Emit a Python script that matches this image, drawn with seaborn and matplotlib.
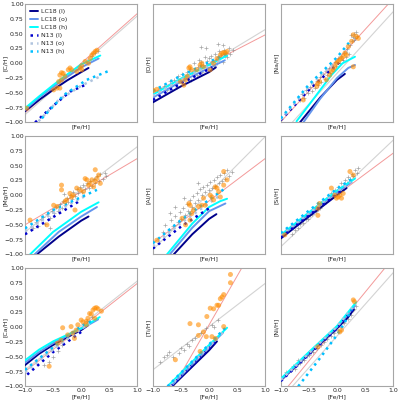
import numpy as np
import pandas as pd
import matplotlib
matplotlib.use('Agg')
import matplotlib.pyplot as plt
import seaborn as sns

sns.set_style('white')

model_names = ['LC18 (l)', 'LC18 (o)', 'LC18 (h)', 'N13 (l)', 'N13 (o)', 'N13 (h)']
feh_ends = [-1.0, 1.0]

# ---------------- [C/H] ----------------
C_stars = [(-0.40, -0.30), (-0.30, -0.20), (0.10, 0.02), (0.20, 0.12), (0.25, 0.18), (0.30, 0.20)]
C_sample = [(-0.97, -0.76), (-0.49, -0.45), (-0.43, -0.42), (-0.38, -0.42), (-0.40, -0.31), (-0.35, -0.28),
            (-0.38, -0.20), (-0.35, -0.16), (-0.32, -0.17), (-0.29, -0.22), (-0.23, -0.11), (-0.20, -0.08),
            (-0.17, -0.11), (-0.08, -0.14), (0.01, -0.11), (0.01, -0.04), (0.07, 0.03), (0.13, 0.00),
            (0.16, 0.08), (0.22, 0.17), (0.25, 0.20), (0.28, 0.22), (0.19, 0.14), (-0.02, -0.08)]
C_fit_gray = [-0.87, 0.80]
C_fit_red = [-0.84, 0.84]
C_lc18 = [[(-1, -0.81), (-0.75, -0.62), (-0.5, -0.45), (-0.25, -0.29), (0, -0.15), (0.13, -0.08)],
          [(-1, -0.79), (-0.75, -0.58), (-0.5, -0.40), (-0.25, -0.23), (0, -0.07), (0.31, 0.08)],
          [(-1, -0.76), (-0.75, -0.56), (-0.5, -0.37), (-0.25, -0.19), (0, -0.02), (0.34, 0.13)]]
C_n13 = [[(-0.82, -1.0), (-0.5, -0.72), (-0.2, -0.48), (0.11, -0.35)],
         [(-0.76, -0.98), (-0.4, -0.62), (0, -0.38), (0.34, -0.22)],
         [(-0.70, -0.93), (-0.3, -0.53), (0.1, -0.28), (0.49, -0.13)]]

# ---------------- [O/H] ----------------
O_stars = [(-0.88, -0.42), (-0.80, -0.38), (-0.75, -0.45), (-0.70, -0.30), (-0.66, -0.36), (-0.62, -0.28),
           (-0.58, -0.40), (-0.55, -0.22), (-0.52, -0.30), (-0.48, -0.18), (-0.45, -0.26), (-0.42, -0.34),
           (-0.40, -0.15), (-0.37, -0.22), (-0.34, -0.10), (-0.32, -0.28), (-0.30, -0.17), (-0.27, 0.00),
           (-0.25, -0.12), (-0.22, -0.20), (-0.20, -0.06), (-0.18, 0.05), (-0.16, -0.10), (-0.14, 0.02),
           (-0.12, -0.15), (-0.10, -0.03), (-0.08, 0.10), (-0.06, -0.06), (-0.04, 0.04), (-0.02, -0.10),
           (0.00, 0.08), (0.02, -0.02), (0.04, 0.12), (0.06, 0.03), (0.08, -0.05), (0.10, 0.15),
           (0.12, 0.06), (0.14, 0.00), (0.16, 0.10), (0.18, 0.20), (0.20, 0.08), (0.22, 0.14),
           (0.24, 0.02), (0.26, 0.22), (0.28, 0.12), (0.30, 0.18), (0.32, 0.10), (0.35, 0.25),
           (0.38, 0.16), (0.42, 0.22), (-0.15, 0.28), (-0.05, 0.25), (0.15, 0.32), (0.25, 0.30)]
O_sample = [(-0.99, -0.46), (-0.93, -0.44), (-0.51, -0.31), (-0.42, -0.28), (-0.39, -0.22), (-0.36, -0.08),
            (-0.34, -0.06), (-0.31, -0.11), (-0.22, -0.11), (-0.16, -0.03), (-0.13, 0.00), (-0.10, -0.06),
            (0.02, -0.11), (0.08, 0.00), (0.14, 0.08), (0.20, 0.14), (0.23, 0.17), (0.26, 0.18),
            (0.29, 0.17), (0.32, 0.20), (-0.45, -0.37)]
O_fit_gray = [-0.58, 0.57]
O_fit_red = [-0.50, 0.48]
O_lc18 = [[(-1, -0.66), (-0.5, -0.39), (-0.25, -0.27), (0, -0.15), (0.12, -0.07)],
          [(-1, -0.58), (-0.5, -0.31), (0, -0.08), (0.28, 0.05)],
          [(-1, -0.53), (-0.5, -0.26), (0, -0.03), (0.32, 0.13)]]
O_n13 = [[(-1, -0.62), (-0.5, -0.34), (0, -0.10), (0.06, -0.07)],
         [(-1, -0.55), (-0.5, -0.28), (0, -0.04), (0.25, 0.07)],
         [(-1, -0.47), (-0.5, -0.21), (0, 0.02), (0.32, 0.17)]]

# ---------------- [Na/H] ----------------
Na_stars = [(-0.66, -0.62), (-0.62, -0.52), (-0.58, -0.58), (-0.55, -0.46), (-0.52, -0.50), (-0.48, -0.40),
            (-0.45, -0.47), (-0.42, -0.35), (-0.40, -0.42), (-0.36, -0.30), (-0.33, -0.36), (-0.30, -0.24),
            (-0.28, -0.32), (-0.25, -0.18), (-0.22, -0.26), (-0.20, -0.13), (-0.17, -0.20), (-0.14, -0.08),
            (-0.12, -0.16), (-0.09, -0.03), (-0.06, -0.10), (-0.04, 0.02), (-0.01, -0.05), (0.02, 0.08),
            (0.05, 0.00), (0.08, 0.13), (0.10, 0.05), (0.13, 0.18), (0.16, 0.10), (0.18, 0.24),
            (0.21, 0.15), (0.24, 0.30), (0.26, 0.38), (0.28, 0.45), (0.30, 0.50), (0.32, 0.42),
            (0.34, 0.52), (0.36, 0.46), (0.25, 0.48), (0.30, 0.40)]
Na_sample = [(-0.60, -0.62), (-0.36, -0.39), (-0.34, -0.34), (-0.31, -0.31), (-0.19, -0.28), (-0.13, -0.20),
             (-0.10, -0.14), (-0.07, -0.11), (-0.04, -0.06), (-0.01, 0.00), (0.02, 0.03), (0.05, 0.06),
             (0.08, 0.08), (0.11, 0.11), (0.14, 0.17), (0.17, 0.14), (0.20, 0.28), (0.26, 0.37),
             (0.29, 0.48), (0.35, 0.45), (0.38, 0.42), (0.29, -0.06)]
Na_fit_gray = [-1.21, 0.87]
Na_fit_red = [-0.99, 1.09]
Na_lc18 = [[(-0.66, -1.0), (-0.3, -0.58), (0, -0.28), (0.14, -0.18)],
           [(-0.60, -1.0), (-0.3, -0.60), (0, -0.25), (0.2, -0.08), (0.32, -0.03)],
           [(-0.72, -0.98), (-0.4, -0.58), (-0.1, -0.20), (0.1, 0.0), (0.32, 0.11)]]
Na_n13 = [[(-1, -0.96), (-0.5, -0.45), (0, -0.02), (0.1, 0.06)],
          [(-1, -0.95), (-0.5, -0.40), (0, 0.05), (0.2, 0.20)],
          [(-1, -0.93), (-0.5, -0.36), (0, 0.10), (0.26, 0.40)]]

# ---------------- [Mg/H] ----------------
Mg_stars = [(-0.85, -0.55), (-0.80, -0.45), (-0.76, -0.52), (-0.72, -0.40), (-0.68, -0.36), (-0.65, -0.48),
            (-0.60, -0.32), (-0.56, -0.38), (-0.52, -0.26), (-0.48, -0.30), (-0.45, -0.20), (-0.42, -0.27),
            (-0.38, -0.15), (-0.35, -0.22), (-0.32, -0.10), (-0.29, -0.17), (-0.26, -0.05), (-0.23, -0.12),
            (-0.20, 0.00), (-0.17, -0.06), (-0.14, 0.05), (-0.11, -0.02), (-0.08, 0.10), (-0.05, 0.03),
            (-0.02, 0.14), (0.01, 0.06), (0.04, 0.17), (0.07, 0.10), (0.10, 0.20), (0.13, 0.12),
            (0.16, 0.24), (0.19, 0.16), (0.22, 0.28), (0.25, 0.20), (0.28, 0.32), (0.31, 0.24),
            (0.34, 0.36), (0.38, 0.28), (0.42, 0.38), (0.45, 0.33), (-0.55, -0.55), (-0.30, 0.02)]
Mg_sample = [(-0.91, -0.42), (-0.49, -0.17), (-0.43, -0.19), (-0.35, 0.17), (-0.35, 0.09), (-0.29, -0.11),
             (-0.26, -0.08), (-0.20, 0.03), (-0.17, -0.03), (-0.14, 0.00), (-0.08, 0.12), (-0.02, 0.09),
             (0.04, 0.06), (0.07, 0.28), (0.13, 0.17), (0.16, 0.20), (0.19, 0.26), (0.22, 0.14),
             (0.25, 0.23), (0.28, 0.28), (0.31, 0.34), (0.34, 0.20), (0.25, 0.43), (-0.11, -0.25),
             (-0.61, -0.50), (0.10, 0.26)]
Mg_fit_gray = [-0.62, 0.82]
Mg_fit_red = [-0.50, 0.62]
Mg_lc18 = [[(-0.79, -1.0), (-0.4, -0.70), (0, -0.43), (0.13, -0.36)],
           [(-0.83, -1.0), (-0.4, -0.62), (0, -0.36), (0.28, -0.20)],
           [(-0.91, -1.0), (-0.5, -0.62), (0, -0.28), (0.31, -0.12)]]
Mg_n13 = [[(-1, -0.66), (-0.5, -0.37), (-0.05, -0.11)],
          [(-1, -0.61), (-0.5, -0.30), (0.1, 0.0)],
          [(-1, -0.56), (-0.5, -0.25), (0.28, 0.09)]]

# ---------------- [Al/H] ----------------
Al_stars = [(-0.82, -0.62), (-0.78, -0.50), (-0.72, -0.58), (-0.68, -0.42), (-0.64, -0.52), (-0.60, -0.35),
            (-0.56, -0.45), (-0.52, -0.28), (-0.50, -0.40), (-0.46, -0.22), (-0.43, -0.33), (-0.40, -0.15),
            (-0.37, -0.27), (-0.34, -0.08), (-0.31, -0.20), (-0.28, -0.02), (-0.25, -0.14), (-0.22, 0.04),
            (-0.19, -0.08), (-0.16, 0.10), (-0.13, 0.00), (-0.10, 0.14), (-0.07, 0.05), (-0.04, 0.18),
            (-0.01, 0.08), (0.02, 0.22), (0.05, 0.12), (0.08, 0.26), (0.11, 0.16), (0.14, 0.30),
            (0.17, 0.20), (0.20, 0.34), (0.23, 0.24), (0.26, 0.38), (0.29, 0.28), (0.32, 0.42),
            (0.35, 0.32), (0.40, 0.40), (-0.60, -0.20), (-0.45, -0.05), (-0.20, 0.20), (-0.70, -0.30)]
Al_sample = [(-0.93, -0.76), (-0.48, -0.39), (-0.36, -0.14), (-0.34, -0.17), (-0.31, -0.31), (-0.28, -0.25),
             (-0.19, -0.19), (-0.13, -0.17), (-0.10, -0.05), (-0.07, -0.17), (0.02, 0.00), (0.05, -0.03),
             (0.08, -0.08), (0.11, 0.14), (0.14, 0.12), (0.17, 0.06), (0.20, -0.03), (0.26, 0.40),
             (0.26, 0.17), (0.32, 0.26), (-0.42, -0.50), (-0.34, -0.42)]
Al_fit_gray = [-0.92, 0.99]
Al_fit_red = [-0.81, 0.62]
Al_lc18 = [[(-0.63, -1.0), (-0.3, -0.66), (0, -0.40), (0.13, -0.32)],
           [(-0.70, -1.0), (-0.3, -0.55), (0, -0.27), (0.29, -0.14)],
           [(-0.75, -1.0), (-0.3, -0.48), (0, -0.20), (0.2, -0.10), (0.32, -0.06)]]
Al_n13 = [[(-1, -0.90), (-0.5, -0.53), (0.05, -0.19)],
          [(-1, -0.86), (-0.5, -0.47), (0.2, 0.0)],
          [(-1, -0.81), (-0.5, -0.42), (0.29, 0.12)]]

# ---------------- [Si/H] ----------------
Si_stars = [(-0.80, -0.65), (-0.75, -0.58), (-0.70, -0.56), (-0.65, -0.49), (-0.60, -0.47), (-0.56, -0.40),
            (-0.52, -0.40), (-0.48, -0.33), (-0.44, -0.32), (-0.40, -0.25), (-0.37, -0.27), (-0.34, -0.19),
            (-0.31, -0.22), (-0.28, -0.14), (-0.25, -0.15), (-0.22, -0.08), (-0.19, -0.11), (-0.16, -0.03),
            (-0.13, -0.05), (-0.10, 0.03), (-0.07, 0.01), (-0.04, 0.09), (-0.01, 0.06), (0.02, 0.14),
            (0.05, 0.11), (0.08, 0.20), (0.11, 0.16), (0.14, 0.25), (0.17, 0.21), (0.20, 0.31),
            (0.23, 0.27), (0.26, 0.36), (0.29, 0.33), (0.32, 0.42), (0.35, 0.38), (0.38, 0.46)]
Si_sample = [(-0.93, -0.67), (-0.34, -0.34), (-0.34, -0.22), (-0.10, 0.12), (-0.04, 0.00), (-0.01, -0.05),
             (0.02, -0.03), (0.05, 0.00), (0.08, -0.05), (0.11, 0.03), (0.23, 0.40), (0.29, 0.34),
             (-0.31, -0.14)]
Si_fit_gray = [-0.87, 0.93]
Si_fit_red = [-0.70, 0.71]
Si_lc18 = [[(-1, -0.73), (-0.5, -0.36), (0, 0.00), (0.17, 0.12)],
           [(-1, -0.69), (-0.5, -0.32), (0, 0.05), (0.26, 0.22)],
           [(-1, -0.67), (-0.5, -0.29), (0, 0.08), (0.32, 0.28)]]
Si_n13 = [[(-1, -0.71), (-0.5, -0.34), (0, 0.02), (0.12, 0.10)],
          [(-1, -0.67), (-0.5, -0.30), (0, 0.07), (0.25, 0.23)],
          [(-1, -0.64), (-0.5, -0.26), (0, 0.11), (0.32, 0.31)]]

# ---------------- [Ca/H] ----------------
Ca_stars = [(-0.66, -0.64), (-0.58, -0.58), (-0.50, -0.50), (-0.42, -0.40), (-0.35, -0.30), (0.10, 0.10),
            (0.20, 0.18)]
Ca_sample = [(-0.57, -0.66), (-0.33, -0.01), (-0.18, 0.01), (-0.15, -0.10), (-0.12, -0.19), (-0.09, -0.05),
             (-0.06, 0.04), (0.00, 0.12), (0.03, 0.09), (0.09, 0.10), (0.12, 0.15), (0.18, 0.22),
             (0.21, 0.29), (0.24, 0.32), (0.27, 0.33), (0.30, 0.31), (0.36, 0.27), (-0.42, -0.27),
             (-0.36, -0.22), (-0.24, -0.13), (0.24, 0.15), (0.15, 0.23), (0.09, 0.04)]
Ca_fit_gray = [-0.72, 0.78]
Ca_fit_red = [-0.75, 0.74]
Ca_lc18 = [[(-1, -0.64), (-0.75, -0.45), (-0.5, -0.30), (-0.25, -0.17), (0, -0.05), (0.12, 0.03)],
           [(-1, -0.60), (-0.75, -0.42), (-0.5, -0.27), (-0.25, -0.15), (0, -0.03), (0.3, 0.13)],
           [(-1, -0.56), (-0.75, -0.38), (-0.5, -0.24), (-0.25, -0.13), (0, -0.02), (0.33, 0.17)]]
Ca_n13 = [[(-0.96, -0.80), (-0.5, -0.42), (0, -0.08)],
          [(-1, -0.76), (-0.5, -0.38), (0, -0.03), (0.15, 0.06)],
          [(-1, -0.72), (-0.5, -0.34), (0, 0.02), (0.24, 0.13)]]

# ---------------- [Ti/H] ----------------
Ti_stars = [(-0.87, -0.58), (-0.80, -0.50), (-0.75, -0.47), (-0.72, -0.42), (-0.65, -0.50), (-0.54, -0.44),
            (-0.50, -0.36), (-0.45, -0.38), (-0.40, -0.28), (-0.36, -0.31), (-0.30, -0.22), (-0.25, -0.18),
            (-0.15, -0.10), (-0.05, -0.02), (0.05, 0.04), (0.08, 0.01), (0.15, 0.12)]
Ti_sample = [(-0.60, -0.55), (-0.34, 0.06), (-0.19, 0.04), (-0.19, -0.14), (-0.16, -0.41), (-0.10, -0.08),
             (-0.05, -0.16), (-0.04, 0.18), (0.02, 0.32), (0.08, 0.31), (0.05, -0.16), (0.11, -0.19),
             (0.14, 0.37), (0.17, 0.37), (0.20, 0.48), (0.26, 0.55), (0.23, 0.51), (0.38, 0.75),
             (0.38, 0.89), (0.26, 0.01)]
Ti_fit_gray = [-0.72, 0.74]
Ti_fit_red = [-1.61, 1.69]
Ti_lc18 = [[(-0.66, -1.0), (0, -0.39), (0.14, -0.24)],
           [(-0.68, -1.0), (0, -0.33), (0.25, -0.09)],
           [(-0.72, -0.98), (0, -0.30), (0.32, -0.01)]]
Ti_n13 = [[(-0.68, -1.0), (0, -0.36), (0.15, -0.22)],
          [(-0.70, -1.0), (0, -0.33), (0.25, -0.08)],
          [(-0.74, -1.0), (0, -0.29), (0.30, 0.0)]]

# ---------------- [Ni/H] ----------------
Ni_stars = [(-0.82, -0.72), (-0.78, -0.66), (-0.74, -0.70), (-0.70, -0.62), (-0.66, -0.60), (-0.62, -0.56),
            (-0.58, -0.55), (-0.54, -0.48), (-0.50, -0.47), (-0.46, -0.42), (-0.42, -0.42), (-0.38, -0.35),
            (-0.35, -0.36), (-0.32, -0.29), (-0.29, -0.30), (-0.26, -0.24), (-0.23, -0.25), (-0.20, -0.18),
            (-0.17, -0.20), (-0.14, -0.13), (-0.11, -0.15), (-0.08, -0.08), (-0.05, -0.10), (-0.02, -0.03),
            (0.01, -0.05), (0.04, 0.03), (0.07, 0.01), (0.10, 0.09), (0.13, 0.07), (0.16, 0.15),
            (0.19, 0.13), (0.22, 0.22), (0.25, 0.20), (0.28, 0.29), (0.31, 0.30), (0.34, 0.36),
            (-0.70, -0.55), (-0.90, -0.75)]
Ni_sample = [(0.29, 0.46), (0.31, 0.43), (0.08, -0.05), (0.05, -0.08), (-0.34, -0.33)]
Ni_fit_gray = [-1.22, 0.92]
Ni_fit_red = [-1.15, 1.17]
Ni_lc18 = [[(-1, -0.90), (-0.5, -0.45), (0, -0.02), (0.2, 0.17), (0.30, 0.30)],
           [(-1, -0.89), (-0.5, -0.44), (0, 0.0), (0.32, 0.36)],
           [(-1, -0.87), (-0.5, -0.42), (0, 0.02), (0.34, 0.42)]]
Ni_n13 = [[(-1, -0.91), (-0.5, -0.46), (0, -0.02), (0.3, 0.32)],
          [(-1, -0.89), (-0.5, -0.44), (0, 0.01), (0.32, 0.38)],
          [(-0.69, -1.0), (-0.3, -0.52), (0, -0.13), (0.15, 0.10), (0.26, 0.30)]]

panels = [('C', C_stars, C_sample, C_fit_gray, C_fit_red, C_lc18, C_n13),
          ('O', O_stars, O_sample, O_fit_gray, O_fit_red, O_lc18, O_n13),
          ('Na', Na_stars, Na_sample, Na_fit_gray, Na_fit_red, Na_lc18, Na_n13),
          ('Mg', Mg_stars, Mg_sample, Mg_fit_gray, Mg_fit_red, Mg_lc18, Mg_n13),
          ('Al', Al_stars, Al_sample, Al_fit_gray, Al_fit_red, Al_lc18, Al_n13),
          ('Si', Si_stars, Si_sample, Si_fit_gray, Si_fit_red, Si_lc18, Si_n13),
          ('Ca', Ca_stars, Ca_sample, Ca_fit_gray, Ca_fit_red, Ca_lc18, Ca_n13),
          ('Ti', Ti_stars, Ti_sample, Ti_fit_gray, Ti_fit_red, Ti_lc18, Ti_n13),
          ('Ni', Ni_stars, Ni_sample, Ni_fit_gray, Ni_fit_red, Ni_lc18, Ni_n13)]

lc18_colors = ['darkblue', 'cornflowerblue', 'cyan']
n13_colors = ['mediumblue', 'lightsteelblue', 'deepskyblue']

fig, axes = plt.subplots(3, 3, figsize=(4, 4), dpi=100, sharex=True, sharey=True)
fig.subplots_adjust(left=0.0625, right=0.983, top=0.99, bottom=0.034, wspace=0.138, hspace=0.114)

for k, (ax, (el, stars, sample, fit_gray, fit_red, lc18, n13)) in enumerate(zip(axes.flat, panels)):
    st = pd.DataFrame(stars, columns=['feh', 'xh'])
    sa = pd.DataFrame(sample, columns=['feh', 'xh'])
    sns.scatterplot(data=st, x='feh', y='xh', ax=ax, color='gray', marker='+', s=5,
                    linewidth=0.5, alpha=0.7, zorder=2, legend=False)
    ax.plot(feh_ends, fit_gray, color='lightgray', lw=0.8, zorder=1)
    ax.plot(feh_ends, fit_red, color='lightcoral', lw=0.7, alpha=0.8, zorder=1)
    for i, curve in enumerate(lc18):
        cx, cy = zip(*curve)
        ax.plot(cx, cy, color=lc18_colors[i], lw=1.4, label=model_names[i], zorder=3)
    for i, curve in enumerate(n13):
        cx, cy = zip(*curve)
        ax.plot(cx, cy, color=n13_colors[i], lw=1.8, ls=':', label=model_names[3 + i], zorder=3)
    sns.scatterplot(data=sa, x='feh', y='xh', ax=ax, color='darkorange', s=13,
                    edgecolor='none', alpha=0.6, zorder=4, legend=False)

    ax.set_xlim(-1, 1)
    ax.set_ylim(-1, 1)
    ax.set_xticks(np.arange(-1, 1.01, 0.5))
    ax.set_yticks(np.arange(-1, 1.01, 0.25))
    ax.tick_params(direction='in', length=2, width=0.5, color='0.6', labelsize=4.5, pad=1)
    ax.tick_params(labelbottom=(k >= 6), labelleft=(k % 3 == 0))
    ax.set_xlabel('[Fe/H]', fontsize=4.5, labelpad=1)
    ax.set_ylabel('[%s/H]' % el, fontsize=4.5)
    ax.xaxis.label.set_visible(True)
    ax.yaxis.label.set_visible(True)
    if k % 3 == 0:
        ax.yaxis.set_label_coords(-0.15, 0.5)
    else:
        ax.yaxis.set_label_coords(-0.02, 0.5)
    for sp in ax.spines.values():
        sp.set_color('0.65')
        sp.set_linewidth(0.8)

axes[0, 0].legend(loc='upper left', fontsize=4.5, frameon=False, handlelength=1.3,
                  handletextpad=0.5, labelspacing=0.4, borderaxespad=0.4)

fig.savefig('out.png', dpi=100)
